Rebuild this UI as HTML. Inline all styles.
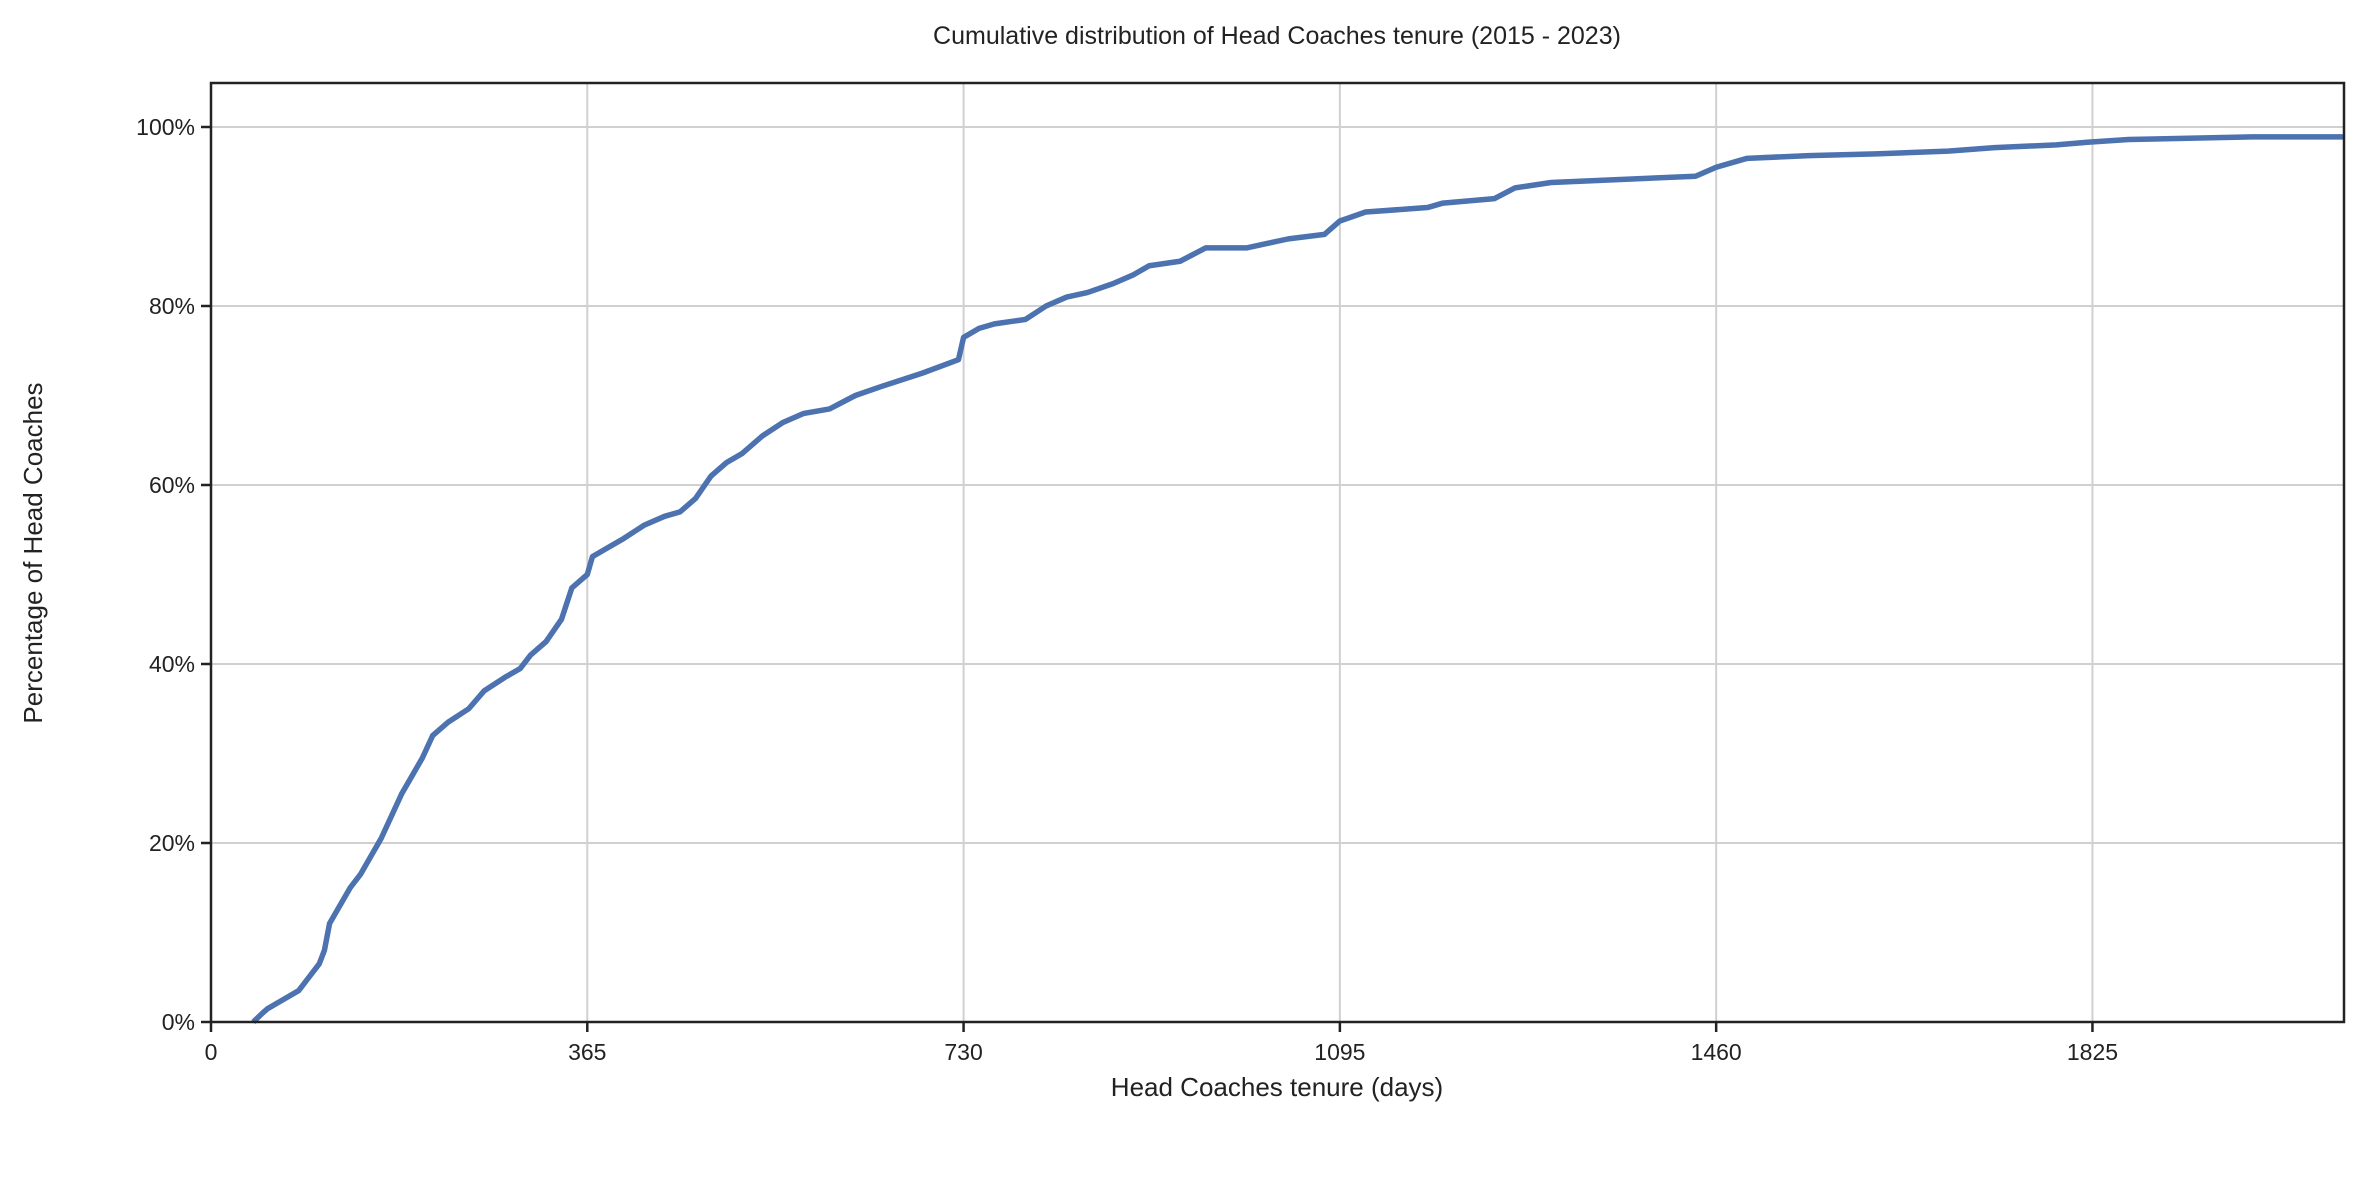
<!DOCTYPE html>
<html><head><meta charset="utf-8"><style>
body{margin:0;background:#fff}
svg text{font-family:"Liberation Sans",sans-serif;fill:#222}
</style></head><body>
<svg id="chart" width="2373" height="1173">
<text x="1277" y="44" font-size="25" text-anchor="middle">Cumulative distribution of Head Coaches tenure (2015 - 2023)</text>
<text x="1277" y="1096" font-size="26" text-anchor="middle">Head Coaches tenure (days)</text>
<text x="0" y="0" font-size="26" text-anchor="middle" transform="translate(42,553) rotate(-90)">Percentage of Head Coaches</text>
<g id="grid"></g><g id="series"></g><g id="axes"></g>
</svg>
<script>
const xTicks=[0,365,730,1095,1460,1825];
const yTicks=[0,20,40,60,80,100];
const days=[41,50,55,70,85,95,105,110,115,125,135,145,155,165,175,185,195,205,215,230,250,265,285,300,310,325,340,350,365,370,385,400,420,440,455,470,485,500,515,535,555,575,600,625,650,690,725,730,745,760,790,810,830,850,875,895,910,940,965,1005,1025,1045,1080,1095,1120,1180,1195,1245,1265,1300,1440,1460,1490,1550,1615,1685,1730,1790,1820,1860,1980,2069];
const pct=[0,1,1.5,2.5,3.5,5,6.5,8,11,13,15,16.5,18.5,20.5,23,25.5,27.5,29.5,32,33.5,35,37,38.5,39.5,41,42.5,45,48.5,50,52,53,54,55.5,56.5,57,58.5,61,62.5,63.5,65.5,67,68,68.5,70,71,72.5,74,76.5,77.5,78,78.5,80,81,81.5,82.5,83.5,84.5,85,86.5,86.5,87,87.5,88,89.5,90.5,91,91.5,92,93.2,93.8,94.5,95.5,96.5,96.8,97,97.3,97.7,98,98.3,98.6,98.9,98.9];
const L=211,R=2344,T=83,B=1022,XMAX=2069;
const X=d=>L+(d/XMAX)*(R-L);
const Y=p=>B-p*(B-127)/100;
const NS='http://www.w3.org/2000/svg';
function mk(tag,attrs,parent){const e=document.createElementNS(NS,tag);for(const k in attrs)e.setAttribute(k,attrs[k]);parent.appendChild(e);return e;}
const grid=document.getElementById('grid'),axes=document.getElementById('axes'),series=document.getElementById('series');
xTicks.forEach(t=>{
 const g=mk('line',{x1:X(t),x2:X(t),y1:T,y2:B,stroke:'#d0d0d0','stroke-width':2},grid);
 
 
 const tk=mk('line',{x1:X(t),x2:X(t),y1:B,y2:B+10,stroke:'#222','stroke-width':2.5},axes);
 
 
 const tx=mk('text',{x:X(t),y:B+38,'font-size':23,'text-anchor':'middle'},axes);
 tx.textContent=t;
 
 
});
yTicks.forEach(t=>{
 const g=mk('line',{x1:L,x2:R,y1:Y(t),y2:Y(t),stroke:'#d0d0d0','stroke-width':2},grid);
 
 
 const tk=mk('line',{x1:L-10,x2:L,y1:Y(t),y2:Y(t),stroke:'#222','stroke-width':2.5},axes);
 
 
 const tx=mk('text',{x:L-16,y:Y(t)+8,'font-size':23,'text-anchor':'end'},axes);
 tx.textContent=t+'%';
 
 
});
let d='M'+X(days[0])+' '+Y(pct[0]);
for(let i=1;i<days.length;i++){d+=' L'+X(days[i])+' '+Y(pct[i]);}
const line=mk('path',{d:d,fill:'none',stroke:'#4c72b0','stroke-width':5.5,'stroke-linejoin':'round'},series);


const fr=mk('rect',{x:L,y:T,width:R-L,height:B-T,fill:'none',stroke:'#222','stroke-width':2.5},axes);


</script>
</body></html>
